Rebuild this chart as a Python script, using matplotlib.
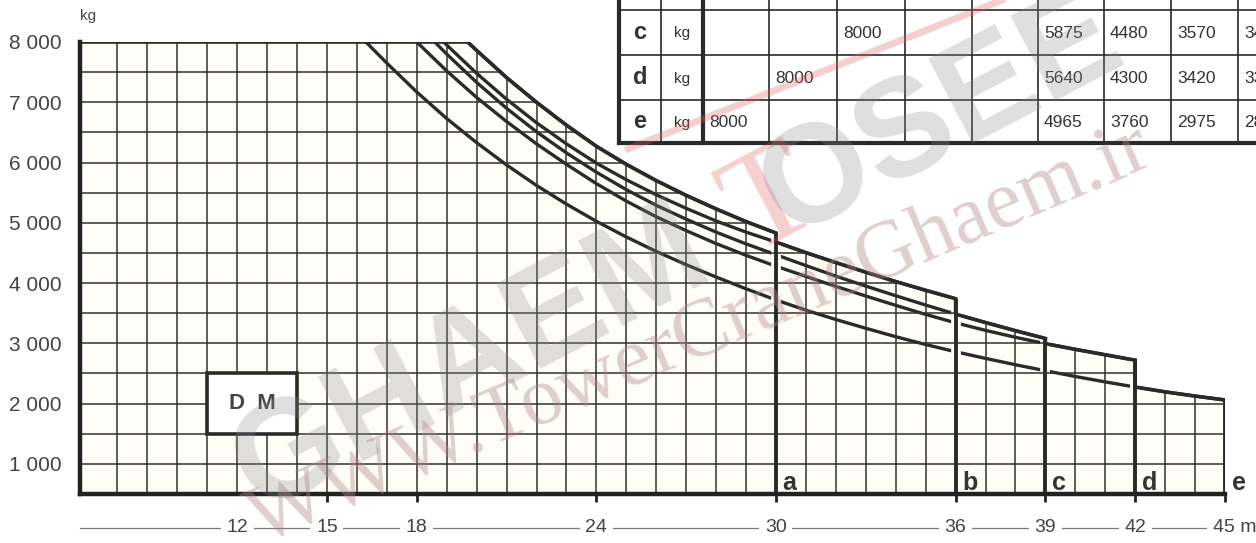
import numpy as np
import matplotlib.pyplot as plt
from matplotlib.patches import Polygon, Rectangle
from matplotlib.transforms import blended_transform_factory

plt.rcParams['font.family'] = ['Liberation Sans', 'DejaVu Sans']

# load curves: radius (m) -> permitted load (kg)
R_A = [19.7] + list(range(20, 31))
P_A = [8000, 7860, 7410, 7000, 6620, 6270, 5970, 5700, 5455, 5230, 5020, 4830]

R_B = [18.9] + list(range(19, 37))
P_B = [8000, 7950, 7480, 7050, 6660, 6310, 5990, 5715, 5465, 5240, 5030, 4845,
       4680, 4505, 4340, 4180, 4025, 3880, 3740]

R_C = [18.6] + list(range(19, 40))
P_C = [8000, 7800, 7330, 6900, 6510, 6160, 5840, 5550, 5290, 5060, 4845, 4650,
       4470, 4290, 4115, 3950, 3790, 3635, 3485, 3345, 3210, 3080]

R_D = list(range(18, 43))
P_D = [8000, 7520, 7080, 6680, 6310, 5970, 5650, 5360, 5100, 4870, 4655, 4460,
       4280, 4110, 3945, 3785, 3630, 3480, 3340, 3215, 3100, 2995, 2900, 2810, 2720]

R_E = [16.3] + list(range(17, 46))
P_E = [8000, 7650, 7170, 6730, 6330, 5960, 5620, 5310, 5025, 4765, 4525, 4305,
       4100, 3905, 3720, 3550, 3395, 3250, 3110, 2980, 2860, 2750, 2645, 2545,
       2450, 2360, 2275, 2195, 2125, 2060]

JIBS = ['a', 'b', 'c', 'd', 'e']
CURVES = [(R_A, P_A), (R_B, P_B), (R_C, P_C), (R_D, P_D), (R_E, P_E)]

Y_TICKS = [1000, 2000, 3000, 4000, 5000, 6000, 7000, 8000]
Y_TICKLABELS = ['1 000', '2 000', '3 000', '4 000', '5 000', '6 000', '7 000', '8 000']
X_LABELS = [12, 15, 18, 24, 30, 36, 39, 42]
X_TICKS = [15, 18, 24, 30, 36, 39, 42, 45]

# table (top right, partly cut by the page edge)
TABLE_ROWS = ['c', 'd', 'e']
TABLE_VALUES = [
    [None, None, 8000, None, None, 5875, 4480, 3570, 3485],
    [None, 8000, None, None, None, 5640, 4300, 3420, 3340],
    [8000, None, None, None, None, 4965, 3760, 2975, 2860],
]

X_MIN, X_MAX = 6.75, 45
Y_MIN, Y_MAX = 500, 8000
INK = '#2a2a2a'
PAPER = '#fffef6'

fig = plt.figure(figsize=(12.56, 5.43), dpi=100)
fig.patch.set_facecolor('white')
ax = fig.add_axes([80 / 1256, 49 / 543, 1145 / 1256, 452 / 543])
ax.set_xlim(X_MIN, X_MAX)
ax.set_ylim(Y_MIN, Y_MAX)
ax.set_facecolor('none')

# outer envelope: each jib takes over where the previous one ends
env = [(X_MIN, Y_MIN), (X_MIN, Y_MAX)]
lo = None
for R, P in CURVES:
    for r, p in zip(R, P):
        if lo is None or r >= lo:
            env.append((r, p))
    lo = R[-1]
env.append((X_MAX, Y_MIN))

env_patch = Polygon(env, closed=True, facecolor=PAPER, edgecolor='none', zorder=0.5)
ax.add_patch(env_patch)

# square grid, only under the envelope
vl = ax.vlines(np.arange(8, 45), Y_MIN, Y_MAX, colors='#303030', lw=1.1, zorder=3)
vl.set_clip_path(env_patch)
hl = ax.hlines(np.arange(1000, 8000, 500), X_MIN, X_MAX, colors='#303030', lw=1.1, zorder=3)
hl.set_clip_path(env_patch)

# the five curves
for R, P in CURVES:
    ax.plot(R, P, color=INK, lw=2.4, zorder=2, solid_joinstyle='round')

# curves break where they meet the end line of a shorter jib
for R, P in CURVES[:-1]:
    ax.plot([R[-1], R[-1]], [Y_MIN, P[-1]], color=PAPER, lw=7, zorder=2.5,
            solid_capstyle='butt')

ex, ey = zip(*env[1:-1])
ax.plot(ex, ey, color=INK, lw=2.6, zorder=4, solid_joinstyle='miter')
for R, P in CURVES:
    ax.plot([R[-1], R[-1]], [Y_MIN, P[-1]], color=INK, lw=2.8, zorder=4,
            solid_capstyle='butt')

# DM box
ax.add_patch(Rectangle((11, 1500), 3, 1000, facecolor='white', edgecolor=INK,
                       lw=2.6, zorder=4.5))
ax.text(12.5, 2000, 'D  M', ha='center', va='center', fontsize=16,
        fontweight='bold', color='#444444', zorder=6)

for s in ['top', 'right']:
    ax.spines[s].set_visible(False)
for s in ['left', 'bottom']:
    ax.spines[s].set_linewidth(3.2)
    ax.spines[s].set_color('#222222')
    ax.spines[s].set_zorder(5)

ax.set_yticks(Y_TICKS)
ax.set_yticklabels(Y_TICKLABELS)
ax.tick_params(axis='y', length=0, pad=13, labelsize=15, labelcolor='#444444')
ax.set_xticks(X_TICKS)
ax.tick_params(axis='x', length=6, width=2, direction='out', color='#222222',
               labelbottom=False)

# radius labels sitting on a thin rule below the axis
trans = blended_transform_factory(ax.transData, ax.transAxes)
y_lab = -34 / 452
ax.plot([X_MIN, X_MAX - 0.5], [y_lab, y_lab], transform=trans, color='#7a7a7a',
        lw=0.9, clip_on=False, zorder=1)
for v in X_LABELS:
    ax.text(v, y_lab, str(v), transform=trans, ha='center', va='center',
            fontsize=14, color='#444444', clip_on=False, zorder=2,
            bbox=dict(facecolor='white', edgecolor='none', pad=4))
ax.text(X_MAX - 0.4, y_lab, '45 m', transform=trans, ha='left', va='center',
        fontsize=14, color='#444444', clip_on=False, zorder=2,
        bbox=dict(facecolor='white', edgecolor='none', pad=4))

for name, (R, P) in zip(JIBS, CURVES):
    ax.text(R[-1] + 0.22, 560, name, ha='left', va='baseline', fontsize=18,
            fontweight='bold', color='#333333', zorder=6, clip_on=False)

# page overlay in pixel units for the table, unit label and watermark
pg = fig.add_axes([0, 0, 1, 1], zorder=10)
pg.set_xlim(0, 1256)
pg.set_ylim(543, 0)
pg.axis('off')

pg.text(80, 16, 'kg', ha='left', va='center', fontsize=11, color='#444444')

cols = [619, 661, 703, 769, 837, 905, 972, 1038, 1104, 1171, 1238, 1306]
rows = [10, 55, 100, 143]
pg.add_patch(Rectangle((cols[0], -5), 720, rows[-1] + 5, facecolor='white',
                       edgecolor='none', zorder=1))
for i, x in enumerate(cols):
    lw = 3 if i in (0, 2) else 1.2
    pg.plot([x, x], [-5, rows[-1]], color=INK, lw=lw, zorder=2)
for j, y in enumerate(rows):
    lw = 3 if j == len(rows) - 1 else 1.2
    pg.plot([cols[0], 1300], [y, y], color=INK, lw=lw, zorder=2)
for j, name in enumerate(TABLE_ROWS):
    yc = (rows[j] + rows[j + 1]) / 2
    pg.text((cols[0] + cols[1]) / 2, yc, name, ha='center', va='center',
            fontsize=17, fontweight='bold', color='#333333', zorder=3)
    pg.text((cols[1] + cols[2]) / 2, yc + 1, 'kg', ha='center', va='center',
            fontsize=11, color='#333333', zorder=3)
    for k, v in enumerate(TABLE_VALUES[j]):
        if v is not None:
            pg.text(cols[2 + k] + 6, yc + 1, str(v), ha='left', va='center',
                    fontsize=12.5, color='#333333', zorder=3)

# watermark
ang = 27.6
u = np.array([np.cos(np.radians(ang)), -np.sin(np.radians(ang))])
p0 = np.array([245, 480])
for s, txt, col, fam in [(255, 'GHAEM', '#8c8c8c', 'Liberation Sans'),
                         (595, 'T', '#e05050', 'Liberation Serif'),
                         (785, 'OSEE', '#8c8c8c', 'Liberation Sans')]:
    x, y = p0 + s * u
    pg.text(x, y, txt, ha='center', va='center', rotation=ang,
            rotation_mode='anchor', fontsize=100,
            fontweight='bold' if fam == 'Liberation Sans' else 'normal',
            family=fam, color=col, alpha=0.28, zorder=20)
pg.text(700, 335, 'WWW.TowerCraneGhaem.ir', ha='center', va='center',
        rotation=23, rotation_mode='anchor', fontsize=60, family='Liberation Serif',
        color='#b08888', alpha=0.4, zorder=20)
pg.plot([625, 1015], [150, -5], color='#e06060', lw=5, alpha=0.3, zorder=20,
        solid_capstyle='butt')

fig.savefig('out.png', dpi=100, facecolor='white')
